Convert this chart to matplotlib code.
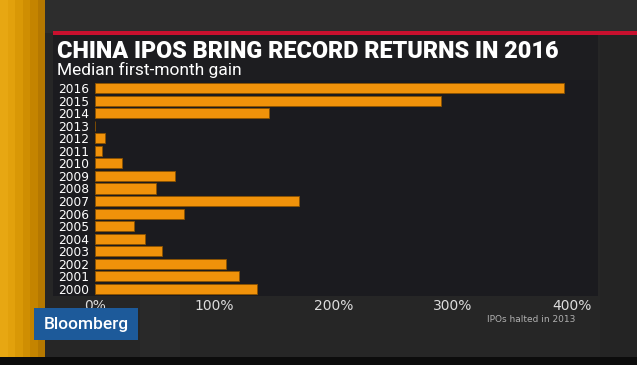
import matplotlib.pyplot as plt
from matplotlib.patches import Rectangle

years = ['2016', '2015', '2014', '2013', '2012', '2011', '2010', '2009', '2008',
         '2007', '2006', '2005', '2004', '2003', '2002', '2001', '2000']
gain = [393, 290, 146, 0, 8, 6, 23, 67, 51, 171, 75, 33, 42, 56, 110, 121, 136]
xticks = [0, 100, 200, 300, 400]
xlabels = ['0%', '100%', '200%', '300%', '400%']

W, H = 637, 365
fig = plt.figure(figsize=(W / 100, H / 100), dpi=100)
fig.patch.set_facecolor('#262626')


def box(x0, y0, x1, y1, color, z=0):
    # pixel coords, origin top-left
    fig.add_artist(Rectangle((x0 / W, 1 - y1 / H), (x1 - x0) / W, (y1 - y0) / H,
                             transform=fig.transFigure, facecolor=color,
                             edgecolor='none', zorder=z))


# background pieces
box(0, 0, W, 33, '#2d2d2d')
box(600, 33, W, 357, '#242424')
box(140, 295, 180, 357, '#292929')
# orange strip on the left
strip = ['#e7a712', '#e2a10c', '#d99806', '#cf8e02', '#c48400', '#b57800']
for i, c in enumerate(strip):
    box(i * 7.5, 0, (i + 1) * 7.5, 357, c)
box(0, 357, W, H, '#0c0c0c')
# red line and panels
box(53, 31, W, 35, '#c8102e', 2)
box(53, 35, 598, 80, '#1d1d20', 1)
box(53, 80, 598, 296, '#1b1b1f', 1)

fig.text(57 / W, 1 - 52 / H, 'CHINA IPOS BRING RECORD RETURNS IN 2016',
         color='white', fontsize=16.8, fontweight='heavy', family='Roboto',
         va='center', ha='left', zorder=3)
fig.text(57 / W, 1 - 70 / H, 'Median first-month gain', color='white',
         fontsize=12.5, family='Roboto', fontweight='normal',
         va='center', ha='left', zorder=3)

ax = fig.add_axes([95 / W, 1 - 295.3 / H, 477 / W, (295.3 - 81.7) / H], zorder=4)
ax.set_facecolor('none')
ax.barh(range(len(years)), gain, height=0.8, color='#f0920a',
        edgecolor='#8a5200', linewidth=0.6)
ax.set_xlim(0, 400)
ax.set_ylim(len(years) - 0.5, -0.5)
ax.set_yticks(range(len(years)))
ax.set_yticklabels(years, color='white', fontsize=8.8)
ax.set_xticks(xticks)
ax.set_xticklabels(xlabels, color='#dcdcdc', fontsize=10)
ax.tick_params(length=0, pad=3)
ax.tick_params(axis='y', pad=4)
for s in ax.spines.values():
    s.set_visible(False)

fig.text(575 / W, 1 - 320 / H, 'IPOs halted in 2013', color='#b0b0b0',
         fontsize=6.5, ha='right', va='center', zorder=3)

# Bloomberg badge
box(34, 308, 138, 340, '#1d5a9a', 5)
fig.text(86 / W, 1 - 324 / H, 'Bloomberg', color='white', fontsize=12.5,
         fontweight='medium', family='Roboto', ha='center', va='center', zorder=6)

fig.savefig('out.png', dpi=100)
